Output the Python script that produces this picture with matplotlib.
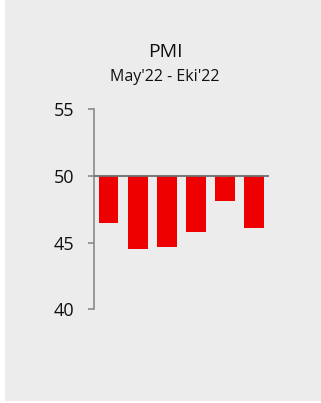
import matplotlib
matplotlib.use("Agg")
import matplotlib.pyplot as plt
from matplotlib.patches import Rectangle

# monthly PMI readings, May'22 .. Oct'22
months = ["May", "Haz", "Tem", "Agu", "Eyl", "Eki"]
pmi = [46.5, 44.5, 44.7, 45.8, 48.1, 46.1]
threshold = 50
yticks = [40, 45, 50, 55]

plt.rcParams["font.family"] = ["Open Sans", "DejaVu Sans"]

fig = plt.figure(figsize=(3.21, 4.03), dpi=100)
fig.patch.set_facecolor("white")
fig.patches.append(Rectangle((5 / 321, 2 / 403), 1, 1, transform=fig.transFigure,
                             facecolor="#ececec", edgecolor="none", zorder=-5))

ax = fig.add_axes([94 / 321, 0.2325, 175 / 321, 0.4963])
ax.set_facecolor("none")
ax.set_zorder(2)

x = list(range(len(pmi)))
ax.bar(x, [v - threshold for v in pmi], bottom=threshold, width=0.68,
       color="#ee0000", zorder=2)
ax.axhline(threshold, color="#6e6e6e", lw=1.3, zorder=3)

ax.set_xlim(-0.5, 5.5)
ax.set_ylim(40, 55)
ax.set_yticks(yticks)
ax.set_xticks([])
for s in ["top", "right", "bottom"]:
    ax.spines[s].set_visible(False)
ax.spines["left"].set_color("#8a8a8a")
ax.spines["left"].set_linewidth(1.2)
ax.tick_params(axis="y", length=4.5, width=1.2, color="#8a8a8a",
               pad=10, labelsize=13, labelcolor="#111111")

fig.text(0.514, 0.871, "PMI", ha="center", va="center", fontsize=14,
         color="#111111", zorder=3)
fig.text(0.514, 0.809, "May'22 - Eki'22", ha="center", va="center",
         fontsize=11.5, color="#111111", zorder=3)

fig.savefig("out.png", dpi=100)
